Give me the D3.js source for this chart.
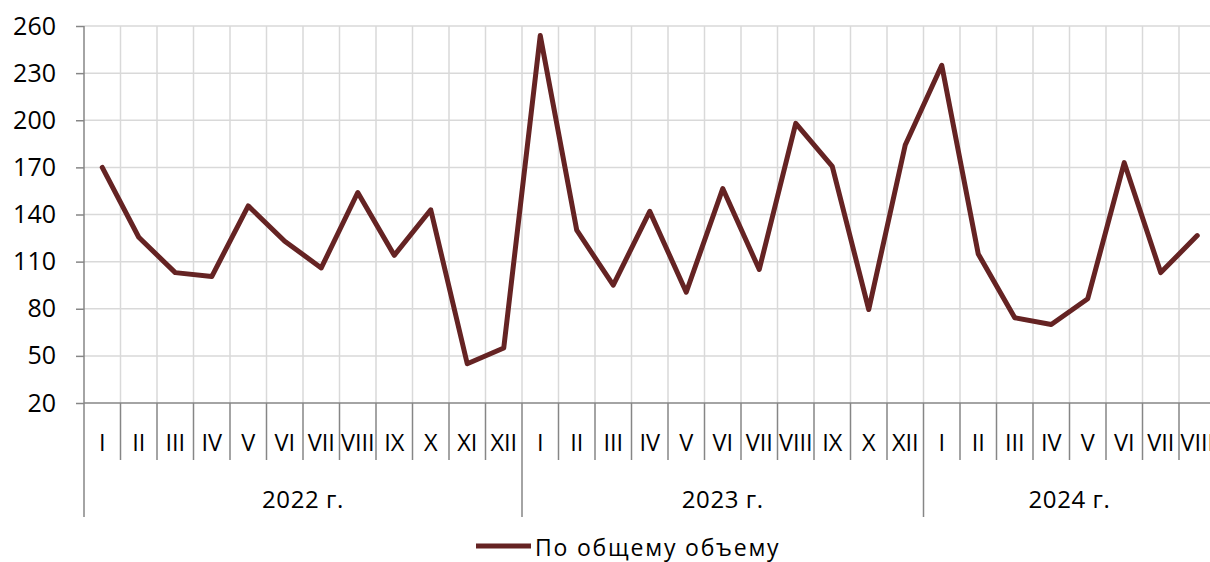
<!DOCTYPE html>
<html lang="ru">
<head>
    <meta charset="UTF-8">
    <title>По общему объему</title>
    <script src="https://d3js.org/d3.v7.min.js"></script>
    <style>
        body { margin: 0; padding: 0; background: #fff; }
        svg { display: block; font-family: "Open Sans", "Noto Sans", sans-serif; }
        .grid line { stroke: #d9d9d9; stroke-width: 1.5px; }
        .axis-line { stroke: #868686; stroke-width: 1.5px; }
    </style>
</head>
<body>
    <div id="chart"></div>

    <script>
        // данные
        const years = ["2022 г.", "2023 г.", "2024 г."];
        const months2022 = ["I", "II", "III", "IV", "V", "VI", "VII", "VIII", "IX", "X", "XI", "XII"];
        const months2023 = ["I", "II", "III", "IV", "V", "VI", "VII", "VIII", "IX", "X", "XII"];
        const months2024 = ["I", "II", "III", "IV", "V", "VI", "VII", "VIII"];
        const values2022 = [170, 125.5, 103, 100.5, 145.5, 123, 106, 154, 114, 143, 45, 55];
        const values2023 = [254, 130, 95, 142, 90.5, 156.5, 105, 198, 170.6, 79.5, 184.2];
        const values2024 = [235, 114.9, 74.3, 70, 86.4, 173, 103, 126.6];
        const yTicks = [20, 50, 80, 110, 140, 170, 200, 230, 260];
        const seriesName = "По общему объему";

        const groups = [
            { year: years[0], months: months2022, values: values2022 },
            { year: years[1], months: months2023, values: values2023 },
            { year: years[2], months: months2024, values: values2024 }
        ];

        const points = [];
        groups.forEach(g => g.months.forEach((m, i) => points.push({ month: m, value: g.values[i], year: g.year })));

        const width = 1210, height = 562;
        const plotLeft = 84, plotRight = 1215.5, plotTop = 26, plotBottom = 403;

        const svg = d3.select("#chart").append("svg")
            .attr("width", width)
            .attr("height", height);

        const x = d3.scaleBand()
            .domain(d3.range(points.length))
            .range([plotLeft, plotRight]);

        const y = d3.scaleLinear()
            .domain([20, 260])
            .range([plotBottom, plotTop]);

        // сетка
        const grid = svg.append("g").attr("class", "grid");
        grid.selectAll("line.h")
            .data(yTicks.slice(1))
            .enter().append("line")
            .attr("x1", plotLeft).attr("x2", width)
            .attr("y1", d => y(d)).attr("y2", d => y(d));
        grid.selectAll("line.v")
            .data(d3.range(1, points.length + 1))
            .enter().append("line")
            .attr("x1", d => plotLeft + d * x.bandwidth())
            .attr("x2", d => plotLeft + d * x.bandwidth())
            .attr("y1", plotTop).attr("y2", plotBottom);

        // ось Y
        const yAxis = svg.append("g")
            .attr("transform", `translate(${plotLeft},0)`)
            .call(d3.axisLeft(y).tickValues(yTicks).tickSize(8).tickPadding(20));
        yAxis.select(".domain").remove();
        yAxis.selectAll("line").attr("stroke", "#868686").attr("stroke-width", 1.5);
        yAxis.selectAll("text")
            .attr("font-size", 25)
            .attr("font-family", "Open Sans")
            .attr("fill", "#000");

        svg.append("line").attr("class", "axis-line")
            .attr("x1", plotLeft).attr("x2", plotLeft)
            .attr("y1", plotTop).attr("y2", 517);

        // ось X
        svg.append("line").attr("class", "axis-line")
            .attr("x1", plotLeft).attr("x2", width)
            .attr("y1", plotBottom).attr("y2", plotBottom);

        svg.append("g").selectAll("line")
            .data(d3.range(1, points.length + 1))
            .enter().append("line")
            .attr("class", "axis-line")
            .attr("x1", d => plotLeft + d * x.bandwidth())
            .attr("x2", d => plotLeft + d * x.bandwidth())
            .attr("y1", plotBottom).attr("y2", 460);

        svg.append("g").selectAll("text")
            .data(points)
            .enter().append("text")
            .attr("x", (d, i) => x(i) + x.bandwidth() / 2)
            .attr("y", 451)
            .attr("text-anchor", "middle")
            .attr("font-size", 23.5)
            .text(d => d.month);

        // годы
        let start = 0;
        const yearBands = groups.map(g => {
            const b = { year: g.year, x0: x(start), x1: x(start) + g.months.length * x.bandwidth() };
            start += g.months.length;
            return b;
        });

        svg.append("g").selectAll("line")
            .data(yearBands)
            .enter().append("line")
            .attr("class", "axis-line")
            .attr("x1", d => d.x1).attr("x2", d => d.x1)
            .attr("y1", 460).attr("y2", 517);

        svg.append("g").selectAll("text")
            .data(yearBands)
            .enter().append("text")
            .attr("x", d => (d.x0 + d.x1) / 2)
            .attr("y", 508)
            .attr("text-anchor", "middle")
            .attr("font-size", 24)
            .attr("letter-spacing", 0.6)
            .text(d => d.year);

        // линия
        const line = d3.line()
            .x((d, i) => x(i) + x.bandwidth() / 2)
            .y(d => y(d.value));

        svg.append("path")
            .datum(points)
            .attr("fill", "none")
            .attr("stroke", "#652323")
            .attr("stroke-width", 5)
            .attr("stroke-linejoin", "round")
            .attr("stroke-linecap", "round")
            .attr("d", line);

        // легенда
        const legend = svg.append("g");
        legend.append("line")
            .attr("x1", 476).attr("x2", 531)
            .attr("y1", 546).attr("y2", 546)
            .attr("stroke", "#652323")
            .attr("stroke-width", 5);
        legend.append("text")
            .attr("x", 535)
            .attr("y", 556)
            .attr("font-size", 23)
            .attr("letter-spacing", 1.8)
            .text(seriesName);
    </script>
</body>
</html>
